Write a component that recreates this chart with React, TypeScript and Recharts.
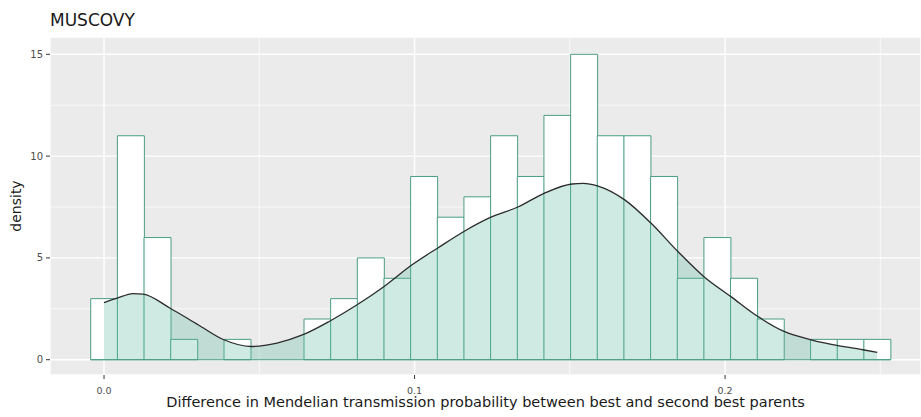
import React from "react";
import {
  ComposedChart,
  Bar,
  Area,
  XAxis,
  YAxis,
  CartesianGrid,
  ReferenceLine,
} from "recharts";

// histogram bins (centres) and their density heights
const binMids = [
  0.0, 0.00859, 0.01717, 0.02576, 0.03434, 0.04293, 0.05152, 0.0601, 0.06869,
  0.07727, 0.08586, 0.09445, 0.10303, 0.11162, 0.1202, 0.12879, 0.13738,
  0.14596, 0.15455, 0.16313, 0.17172, 0.18031, 0.18889, 0.19748, 0.20606,
  0.21465, 0.22324, 0.23182, 0.24041, 0.24899,
];
const binDensity = [
  3, 11, 6, 1, 0, 1, 0, 0, 2, 3, 5, 4, 9, 7, 8, 11, 9, 12, 15, 11, 11, 9, 4, 6,
  4, 2, 0, 1, 1, 1,
];

// kernel density curve
const curveX = [
  0.0, 0.0042, 0.0093, 0.0126, 0.0213, 0.0303, 0.0386, 0.0473, 0.0557, 0.0641,
  0.0725, 0.0815, 0.0902, 0.0992, 0.1076, 0.1159, 0.1246, 0.1333, 0.1417,
  0.1507, 0.1543, 0.1591, 0.1678, 0.1762, 0.1849, 0.1932, 0.2019, 0.2106,
  0.219, 0.2277, 0.2364, 0.2444, 0.249,
];
const curveY = [
  2.81, 3.02, 3.25, 3.22, 2.53, 1.72, 0.98, 0.65, 0.82, 1.23, 1.88, 2.7, 3.6,
  4.66, 5.5, 6.3, 7.0, 7.5, 8.17, 8.63, 8.66, 8.53, 7.84, 6.7, 5.3, 4.08, 3.1,
  2.12, 1.39, 0.98, 0.69, 0.49, 0.36,
];

const xTicks = [0, 0.1, 0.2];
const xMinorTicks = [0.05, 0.15, 0.25];
const yTicks = [0, 5, 10, 15];
const yMinorTicks = [2.5, 7.5, 12.5];

const BIN_WIDTH = 0.008586;
const X_DOMAIN: [number, number] = [-0.0174, 0.2631];
const Y_DOMAIN: [number, number] = [-0.75, 15.85];

const W = 921;
const H = 417;
const Y_AXIS_W = 50;
const X_AXIS_H = 42;
const MARGIN = { top: 37, right: 0, bottom: 0, left: 0 };

const FONT = "'DejaVu Sans', Verdana, sans-serif";
const OUTLINE = "#4a9d84";
const FILL = "#5cb8a0";

const histData = binMids.map((x, i) => ({ x, density: binDensity[i] }));
const curveData = curveX.map((x, i) => ({ x, dens: curveY[i] }));

const minorVertical = ({ offset }: any) =>
  xMinorTicks.map(
    (v) =>
      offset.left +
      ((v - X_DOMAIN[0]) / (X_DOMAIN[1] - X_DOMAIN[0])) * offset.width
  );

const minorHorizontal = ({ offset }: any) =>
  yMinorTicks.map(
    (v) =>
      offset.top +
      ((Y_DOMAIN[1] - v) / (Y_DOMAIN[1] - Y_DOMAIN[0])) * offset.height
  );

export default function App() {
  const histStart = binMids[0] - BIN_WIDTH / 2;
  const histEnd = binMids[binMids.length - 1] + BIN_WIDTH / 2;

  return (
    <div
      style={{
        position: "absolute",
        left: 0,
        top: 0,
        width: W,
        height: H,
        background: "#fff",
        fontFamily: FONT,
      }}
    >
      <div
        style={{
          position: "absolute",
          left: 50,
          top: 12,
          fontSize: 17,
          lineHeight: "17px",
          color: "#1a1a1a",
        }}
      >
        MUSCOVY
      </div>
      <ComposedChart
        width={W}
        height={H}
        data={histData}
        margin={MARGIN}
        barCategoryGap={0}
        barGap={0}
      >
        <CartesianGrid
          fill="#ebebeb"
          stroke="#ffffff"
          strokeWidth={0.7}
          verticalCoordinatesGenerator={minorVertical}
          horizontalCoordinatesGenerator={minorHorizontal}
        />
        <CartesianGrid stroke="#ffffff" strokeWidth={1.4} />
        <XAxis
          dataKey="x"
          type="number"
          domain={X_DOMAIN}
          allowDataOverflow
          ticks={xTicks}
          tickFormatter={(v: number) => v.toFixed(1)}
          height={X_AXIS_H}
          axisLine={false}
          tickSize={4}
          tickMargin={8}
          tickLine={{ stroke: "#333333" }}
          tick={{ fontSize: 9.5, fill: "#4d4d4d", fontFamily: FONT }}
          label={{
            value:
              "Difference in Mendelian transmission probability between best and second best parents",
            position: "insideBottom",
            offset: 10,
            style: { fontSize: 14.5, fill: "#1a1a1a", fontFamily: FONT },
          }}
        />
        <XAxis
          xAxisId="curve"
          dataKey="x"
          type="number"
          domain={X_DOMAIN}
          allowDataOverflow
          hide
        />
        <YAxis
          type="number"
          domain={Y_DOMAIN}
          allowDataOverflow
          ticks={yTicks}
          width={Y_AXIS_W}
          axisLine={false}
          tickSize={4}
          tickMargin={3}
          tickLine={{ stroke: "#333333" }}
          tick={{ fontSize: 10, fill: "#4d4d4d", fontFamily: FONT }}
          label={{
            value: "density",
            angle: -90,
            position: "insideLeft",
            offset: 16,
            style: {
              fontSize: 14,
              fill: "#1a1a1a",
              fontFamily: FONT,
              textAnchor: "middle",
            },
          }}
        />
        <Bar
          dataKey="density"
          fill="#ffffff"
          stroke={OUTLINE}
          strokeWidth={1}
          isAnimationActive={false}
        />
        <ReferenceLine
          segment={[
            { x: histStart, y: 0 },
            { x: histEnd, y: 0 },
          ]}
          stroke={OUTLINE}
          strokeWidth={1}
        />
        <Area
          xAxisId="curve"
          data={curveData}
          dataKey="dens"
          type="monotone"
          baseValue={0}
          fill={FILL}
          fillOpacity={0.3}
          stroke="#2b2b2b"
          strokeWidth={1.3}
          dot={false}
          activeDot={false}
          zIndex={350}
          isAnimationActive={false}
        />
      </ComposedChart>
    </div>
  );
}
